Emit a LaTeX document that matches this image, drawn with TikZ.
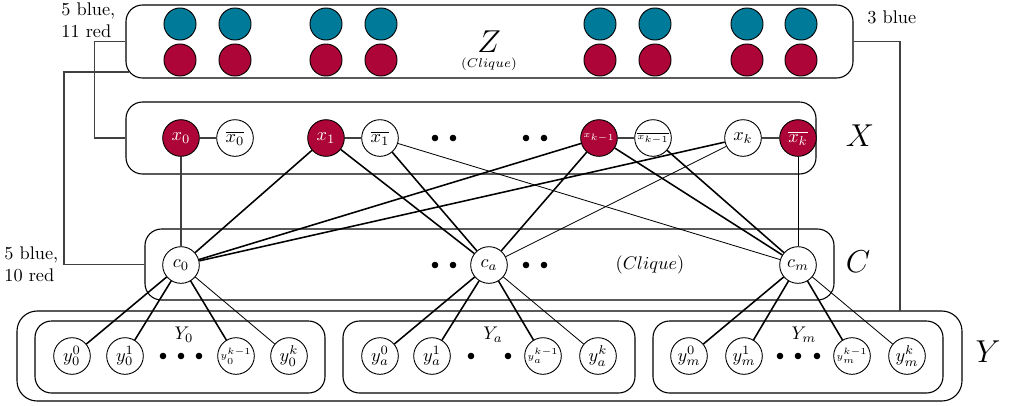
\documentclass[tikz,border=0pt]{standalone}
\usetikzlibrary{fit,calc}
\definecolor{zblue}{RGB}{0,122,153}
\definecolor{zred}{RGB}{173,5,55}
\begin{document}
\begin{tikzpicture}[x=0.546pt,y=-0.546pt,
  box/.style={draw, rounded corners=9pt, line width=0.6pt, inner sep=0pt},
  vtx/.style={circle, draw, fill=white, minimum size=20pt, inner sep=0pt, line width=0.5pt},
  rvtx/.style={vtx, fill=zred, text=white},
  zb/.style={circle, draw, fill=zblue, minimum size=17.5pt, inner sep=0pt, line width=0.5pt},
  zr/.style={zb, fill=zred},
  dotn/.style={circle, fill=black, minimum size=3.6pt, inner sep=0pt},
  thk/.style={line width=0.85pt},
  thn/.style={line width=0.45pt},
  conn/.style={line width=0.6pt, black!75},
  lbl/.style={inner sep=0pt}
]
\useasboundingbox (0,0) rectangle (1010,405);

% boxes
\node[box, fit={(126,5) (853,78)}] (Z) {};
\node[box, fit={(126,102) (816,174)}] (X) {};
\node[box, fit={(145,229) (834,300)}] (C) {};
\node[box, rounded corners=11pt, fit={(17,311) (962,401)}] (Y) {};
\node[box, fit={(35,321) (325,393)}] (Y0) {};
\node[box, fit={(343,321) (635,393)}] (Ya) {};
\node[box, fit={(653,321) (943,393)}] (Ym) {};

% Z vertices
\foreach \i/\xx in {1/180,2/235,3/326,4/381,5/600,6/655,7/747,8/801}{
  \node[zb] (zb\i) at (\xx,24) {};
  \node[zr] (zr\i) at (\xx,60) {};
}
\node[lbl] (zlab) at (489,42) {\LARGE $Z$};
\node[lbl] (zcl) at (489,64) {\scriptsize $(Clique)$};

% text labels
\node[lbl, anchor=west, align=left] (t1) at (61,20) {5 blue,\\11 red};
\node[lbl, anchor=west, align=left] (t2) at (4,264) {5 blue,\\10 red};
\node[lbl, anchor=west] (t3) at (867,17) {3 blue};

% X vertices
\node[rvtx] (x0) at (181,138) {$x_0$};
\node[vtx] (x0b) at (235,138) {$\overline{x_0}$};
\node[rvtx] (x1) at (326,138) {$x_1$};
\node[vtx] (x1b) at (380,138) {$\overline{x_1}$};
\node[rvtx] (xk1) at (599,138) {\tiny $x_{k-1}$};
\node[vtx] (xk1b) at (653,138) {\tiny $\overline{x_{k-1}}$};
\node[vtx] (xk) at (743,138) {$x_k$};
\node[rvtx] (xkb) at (798,138) {$\overline{x_k}$};
\foreach \i/\xx in {1/435,2/453,3/526,4/544}{
  \node[dotn] (xd\i) at (\xx,138) {};
}
\node[lbl] (xlab) at (860,136) {\LARGE $X$};

% C vertices
\node[vtx] (c0) at (181,265) {$c_0$};
\node[vtx] (ca) at (489,265) {$c_a$};
\node[vtx] (cm) at (798,265) {$c_m$};
\foreach \i/\xx in {1/435,2/453,3/526,4/544}{
  \node[dotn] (cd\i) at (\xx,265) {};
}
\node[lbl] (ccl) at (650,265) {$(Clique)$};
\node[lbl] (clab) at (858,262) {\LARGE $C$};

% Y vertices
\node[vtx] (y00) at (72,356) {$y_0^0$};
\node[vtx] (y01) at (125,356) {$y_0^1$};
\node[vtx] (y0k1) at (236,356) {\tiny $y_0^{k-1}$};
\node[vtx] (y0k) at (289,356) {$y_0^k$};
\node[vtx] (ya0) at (380,356) {$y_a^0$};
\node[vtx] (ya1) at (432,356) {$y_a^1$};
\node[vtx] (yak1) at (543,356) {\tiny $y_a^{k-1}$};
\node[vtx] (yak) at (598,356) {$y_a^k$};
\node[vtx] (ym0) at (689,356) {$y_m^0$};
\node[vtx] (ym1) at (744,356) {$y_m^1$};
\node[vtx] (ymk1) at (852,356) {\tiny $y_m^{k-1}$};
\node[vtx] (ymk) at (907,356) {$y_m^k$};
\foreach \i/\xx in {1/163,2/181,3/199,4/471,5/508,6/780,7/798,8/817}{
  \node[dotn] (yd\i) at (\xx,356) {};
}
\node[lbl] (y0lab) at (184,335) {$Y_0$};
\node[lbl] (yalab) at (493,335) {$Y_a$};
\node[lbl] (ymlab) at (804,335) {$Y_m$};
\node[lbl] (ylab) at (988,352) {\LARGE $Y$};

% connectors between boxes
\coordinate (zl) at (129,72);
\coordinate (yt) at (900,311);
\draw[conn] (Z.west) -- ++(-31,0) |- (X.west);
\draw[conn] (zl) -- ++(-65,0) |- (C.west);
\draw[conn] (Z.east) -| (yt);

% X pair edges
\draw[conn] (x0) -- (x0b);
\draw[conn] (x1) -- (x1b);
\draw[conn] (xk1) -- (xk1b);
\draw[conn] (xk) -- (xkb);

% X-C edges
\draw[conn] (x0) -- (c0);
\draw[thn] (xkb) -- (cm);
\draw[thk] (x1) -- (c0);
\draw[thk] (x1) -- (ca);
\draw[thk] (x1b) -- (ca);
\draw[thn] (x1b) -- (cm);
\draw[thk] (xk1) -- (c0);
\draw[thk] (xk1) -- (ca);
\draw[thk] (xk1) -- (cm);
\draw[thk] (xk1b) -- (cm);
\draw[thk] (xk) -- (c0);
\draw[thn] (xk) -- (ca);

% C-Y edges
\draw[thk] (c0) -- (y00);
\draw[thk] (c0) -- (y01);
\draw[thk] (c0) -- (y0k1);
\draw[thn] (c0) -- (y0k);
\draw[thk] (ca) -- (ya0);
\draw[thk] (ca) -- (ya1);
\draw[thk] (ca) -- (yak1);
\draw[thn] (ca) -- (yak);
\draw[thk] (cm) -- (ym0);
\draw[thk] (cm) -- (ym1);
\draw[thk] (cm) -- (ymk1);
\draw[thn] (cm) -- (ymk);
\end{tikzpicture}
\end{document}
